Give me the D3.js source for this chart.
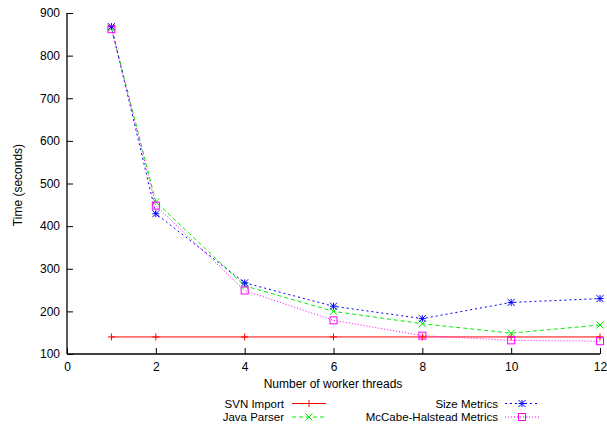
<!DOCTYPE html>
<html lang="en">
  <head>
    <meta charset="utf-8" />
    <title>Worker threads timing</title>
    <style>
      html, body { margin: 0; padding: 0; background: #fff; }
      svg text { font-family: 'Liberation Sans', Arial, sans-serif; font-size: 12px; fill: #000; }
      svg text.legend { font-size: 11.5px; }
    </style>
  </head>
  <body>
    <svg></svg>
    <script src="https://d3js.org/d3.v7.min.js"></script>
    <script type="text/javascript">
      let width = 607,
        height = 427

      // data
      let threads = [1, 2, 4, 6, 8, 10, 12]
      let svnImport = [140, 140, 140, 140, 140, 140, 140]
      let javaParser = [865, 457, 260, 200, 171, 149, 168]
      let sizeMetrics = [868, 429, 267, 212, 183, 221, 230]
      let mccabe = [862, 448, 249, 179, 143, 132, 130]

      let xTicks = [0, 2, 4, 6, 8, 10, 12]
      let yTicks = [100, 200, 300, 400, 500, 600, 700, 800, 900]

      let series = [
        { name: 'SVN Import', values: svnImport, color: '#ff0000', dash: null, marker: 'plus' },
        { name: 'Java Parser', values: javaParser, color: '#00ee00', dash: '4,3', marker: 'cross' },
        { name: 'Size Metrics', values: sizeMetrics, color: '#0000ff', dash: '2,3', marker: 'star' },
        { name: 'McCabe-Halstead Metrics', values: mccabe, color: '#ff00ff', dash: '1,2', marker: 'square' },
      ]

      let svg = d3.select('svg').attr('width', width).attr('height', height)

      let x = d3.scaleLinear().domain([0, 12]).range([67, 600])
      let y = d3.scaleLinear().domain([100, 900]).range([354, 13])

      // axes, ticks pointing inwards
      svg
        .append('g')
        .attr('transform', 'translate(0,354)')
        .call(d3.axisBottom(x).tickValues(xTicks).tickSize(-6).tickPadding(8))
        .call((g) => g.select('.domain').attr('stroke-width', 1.3).attr('d', 'M67,0H600'))
        .call((g) => g.selectAll('text').attr('font-size', 12).attr('font-family', null))

      svg
        .append('g')
        .attr('transform', 'translate(67,0)')
        .call(d3.axisLeft(y).tickValues(yTicks).tickSize(-6).tickPadding(7))
        .call((g) => g.select('.domain').attr('stroke-width', 1.3).attr('d', 'M0,354V13'))
        .call((g) => g.selectAll('text').attr('font-size', 12).attr('font-family', null))

      svg
        .append('text')
        .attr('transform', 'translate(22,185) rotate(-90)')
        .attr('text-anchor', 'middle')
        .text('Time (seconds)')

      svg
        .append('text')
        .attr('x', 333)
        .attr('y', 388)
        .attr('text-anchor', 'middle')
        .text('Number of worker threads')

      function drawMarker(g, type, color) {
        let s = 3.5
        if (type === 'plus') {
          g.append('path').attr('d', `M${-s},0H${s}M0,${-s}V${s}`)
        } else if (type === 'cross') {
          g.append('path').attr('d', `M${-s},${-s}L${s},${s}M${-s},${s}L${s},${-s}`)
        } else if (type === 'star') {
          g.append('path').attr('d', `M${-s},0H${s}M0,${-s}V${s}M${-s},${-s}L${s},${s}M${-s},${s}L${s},${-s}`)
        } else {
          g.append('rect').attr('x', -s).attr('y', -s).attr('width', 2 * s).attr('height', 2 * s).attr('fill', 'none')
        }
        g.selectAll('path, rect').attr('stroke', color).attr('stroke-width', 1).attr('fill', 'none')
      }

      let line = d3
        .line()
        .x((d, i) => x(threads[i]))
        .y((d) => y(d))

      series.forEach((s) => {
        svg
          .append('path')
          .datum(s.values)
          .attr('d', line)
          .attr('fill', 'none')
          .attr('stroke', s.color)
          .attr('stroke-width', 1)
          .attr('stroke-dasharray', s.dash)

        s.values.forEach((v, i) => {
          let g = svg.append('g').attr('transform', `translate(${x(threads[i])},${y(v)})`)
          drawMarker(g, s.marker, s.color)
        })
      })

      // legend, two columns
      let legendPos = [
        { tx: 284, lx: 292, y: 403.5 },
        { tx: 284, lx: 292, y: 417 },
        { tx: 498, lx: 505, y: 403.5 },
        { tx: 498, lx: 505, y: 417 },
      ]

      series.forEach((s, i) => {
        let p = legendPos[i]
        svg
          .append('text')
          .attr('class', 'legend')
          .attr('x', p.tx)
          .attr('y', p.y + 4)
          .attr('text-anchor', 'end')
          .text(s.name)
        svg
          .append('line')
          .attr('x1', p.lx)
          .attr('x2', p.lx + 34)
          .attr('y1', p.y)
          .attr('y2', p.y)
          .attr('stroke', s.color)
          .attr('stroke-width', 1)
          .attr('stroke-dasharray', s.dash)
        let g = svg.append('g').attr('transform', `translate(${p.lx + 17},${p.y})`)
        drawMarker(g, s.marker, s.color)
      })
    </script>
  </body>
</html>
